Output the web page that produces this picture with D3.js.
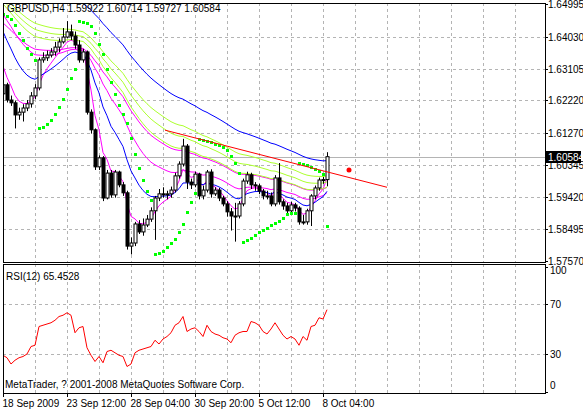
<!DOCTYPE html>
<html><head><meta charset="utf-8">
<script src="https://cdn.jsdelivr.net/npm/d3@7"></script>
<style>body{margin:0;background:#fff}text{font-family:"Liberation Sans",Arial,sans-serif;font-size:10px}</style>
</head><body><div id="chart"></div>
<script>
const symbolTitle = "GBPUSD,H4  1.59922 1.60714 1.59727 1.60584";
const dateLabels = ["18 Sep 2009", "23 Sep 12:00", "28 Sep 04:00", "30 Sep 20:00", "5 Oct 12:00", "8 Oct 04:00"];
const priceTicks = [1.64995, 1.64030, 1.63105, 1.62220, 1.61270, 1.60345, 1.59420, 1.58495, 1.57570];
const rsiTicks = [100, 70, 30, 0];

const opens = [1.6240,1.6266,1.6222,1.6214,1.6179,1.6187,1.6199,1.6211,1.6234,1.6257,1.6338,1.6344,1.6352,1.6361,1.6375,1.6390,1.6404,1.6419,1.6407,1.6381,1.6338,1.6361,1.6187,1.6136,1.6029,1.6055,1.5939,1.6011,1.5948,1.6014,1.5977,1.5954,1.5800,1.5809,1.5864,1.5841,1.5861,1.5878,1.5902,1.5939,1.5951,1.5948,1.5951,1.5962,1.6003,1.6037,1.6089,1.5985,1.5977,1.6008,1.5945,1.5962,1.6014,1.5951,1.5962,1.5939,1.5922,1.5899,1.5887,1.5887,1.5922,1.5988,1.6006,1.5977,1.5974,1.5959,1.5945,1.5945,1.5922,1.5997,1.5928,1.5916,1.5902,1.5919,1.5910,1.5870,1.5870,1.5902,1.5945,1.5968,1.5991,1.59922];
const closes = [1.6266,1.6222,1.6214,1.6179,1.6187,1.6199,1.6211,1.6234,1.6257,1.6338,1.6344,1.6352,1.6361,1.6375,1.6390,1.6404,1.6419,1.6407,1.6381,1.6338,1.6361,1.6187,1.6136,1.6029,1.6055,1.5939,1.6011,1.5948,1.6014,1.5977,1.5954,1.5800,1.5809,1.5864,1.5841,1.5861,1.5878,1.5902,1.5939,1.5951,1.5948,1.5951,1.5962,1.6003,1.6037,1.6089,1.5985,1.5977,1.6008,1.5945,1.5962,1.6014,1.5951,1.5962,1.5939,1.5922,1.5899,1.5887,1.5887,1.5922,1.5988,1.6006,1.5977,1.5974,1.5959,1.5945,1.5945,1.5922,1.5997,1.5928,1.5916,1.5902,1.5919,1.5910,1.5870,1.5870,1.5902,1.5945,1.5968,1.5991,1.59922,1.60584];
const highs = [1.6285,1.6272,1.6235,1.6220,1.6200,1.6210,1.6222,1.6245,1.6268,1.6345,1.6360,1.6365,1.6372,1.6390,1.6400,1.6430,1.6450,1.6440,1.6420,1.6395,1.6370,1.6365,1.6195,1.6140,1.6062,1.6060,1.6020,1.6020,1.6020,1.6018,1.5985,1.5960,1.5825,1.5870,1.5875,1.5880,1.5890,1.5912,1.5945,1.5965,1.5970,1.5960,1.5972,1.6012,1.6045,1.6110,1.6095,1.5995,1.6015,1.6012,1.5975,1.6020,1.6022,1.5970,1.5968,1.5945,1.5930,1.5910,1.5925,1.5930,1.5995,1.6015,1.6012,1.5985,1.5980,1.5965,1.5960,1.5955,1.6005,1.6040,1.5935,1.5925,1.5928,1.5925,1.5915,1.5890,1.5908,1.5950,1.5975,1.5998,1.6000,1.60714];
const lows = [1.6230,1.6215,1.6205,1.6140,1.6165,1.6160,1.6190,1.6200,1.6225,1.6250,1.6330,1.6335,1.6345,1.6350,1.6360,1.6385,1.6400,1.6395,1.6370,1.6330,1.6330,1.6180,1.6125,1.6020,1.6020,1.5930,1.5935,1.5940,1.5940,1.5970,1.5945,1.5790,1.5776,1.5800,1.5835,1.5830,1.5855,1.5870,1.5818,1.5930,1.5940,1.5935,1.5940,1.5955,1.5995,1.6030,1.5965,1.5965,1.5970,1.5935,1.5935,1.5955,1.5940,1.5945,1.5930,1.5915,1.5885,1.5845,1.5813,1.5880,1.5915,1.5980,1.5965,1.5960,1.5950,1.5935,1.5935,1.5915,1.5915,1.5920,1.5905,1.5895,1.5895,1.5900,1.5862,1.5862,1.5862,1.5858,1.5935,1.5960,1.5980,1.59727];
const rsiValues = [29,27,22,25,27,28,30,36,37,52,53,54,55,57,60,61,63,61,47,51,52,35,29,24,28,23,32,33,31,29,28,20,22,31,33,34,35,36,41,38,42,44,47,53,55,60,48,50,51,48,44,53,48,46,45,43,42,39,45,47,48,48,56,55,53,48,46,50,55,50,45,42,44,42,37,44,41,52,53,59,58,65.4528];

// moving averages: period, value at left edge, colour
const maPeriods = [5, 26, 40, 14, 70, 40, 48, 56];
const maSeeds = [1.6320, 1.6470, 1.6445, 1.6420, 1.6640, 1.6500, 1.6510, 1.6520];
const maColors = ["#ff00ff", "#ff00ff", "#ff00ff", "#0000ff", "#0000ff", "#adff2f", "#adff2f", "#adff2f"];
const sarStart = 1.6470;
const trendBars = [40.5, 96];
const trendPrices = [1.6135, 1.5970];
const markBar = 86.5, markPrice = 1.6020;

const W = 583, H = 410;
const frame = {l: 3, r: 545, t: 3, b: 262};
const sub = {t: 264, b: 393};
const svg = d3.select("#chart").append("svg").attr("width", W).attr("height", H);

const x = d3.scaleLinear().domain([0, 81]).range([3, 327]);
const y = d3.scaleLinear().domain([1.57570, 1.64995]).range([261, 4]);
const yr = d3.scaleLinear().domain([0, 100]).range([391.5, 266.5]);

const defs = svg.append("defs");
defs.append("clipPath").attr("id", "cm").append("rect")
  .attr("x", frame.l).attr("y", frame.t).attr("width", frame.r - frame.l).attr("height", frame.b - frame.t);
defs.append("clipPath").attr("id", "cs").append("rect")
  .attr("x", frame.l).attr("y", sub.t).attr("width", frame.r - frame.l).attr("height", sub.b - sub.t);

// grid
const gridX = d3.range(8, 136, 8).map(i => Math.round(x(i)) + 0.5).filter(v => v < frame.r);
const gm = svg.append("g").attr("stroke", "#b4b4b4").attr("stroke-dasharray", "3,3");
gm.selectAll("line.v").data(gridX).join("line").attr("class", "v").attr("x1", d => d).attr("x2", d => d).attr("y1", frame.t).attr("y2", frame.b);
gm.selectAll("line.h").data(priceTicks.slice(1, -1)).join("line").attr("class", "h")
  .attr("x1", frame.l).attr("x2", frame.r).attr("y1", d => Math.round(y(d)) + 0.5).attr("y2", d => Math.round(y(d)) + 0.5);
gm.selectAll("line.vs").data(gridX).join("line").attr("class", "vs").attr("x1", d => d).attr("x2", d => d).attr("y1", sub.t).attr("y2", sub.b);
gm.selectAll("line.hs").data([70, 30]).join("line").attr("class", "hs")
  .attr("x1", frame.l).attr("x2", frame.r).attr("y1", d => Math.round(yr(d)) + 0.5).attr("y2", d => Math.round(yr(d)) + 0.5);

// bid line
const last = closes[closes.length - 1];
svg.append("line").attr("x1", frame.l).attr("x2", frame.r).attr("y1", Math.round(y(last)) + 0.5).attr("y2", Math.round(y(last)) + 0.5).attr("stroke", "#b4b4b4");

const plot = svg.append("g").attr("clip-path", "url(#cm)");

maPeriods.forEach((p, k) => {
  const a = 2 / (p + 1);
  let v = maSeeds[k];
  const pts = closes.map((c, i) => { if (i > 0) v += a * (c - v); return [x(i), y(v)]; });
  plot.append("path").attr("d", d3.line()(pts)).attr("fill", "none").attr("stroke", maColors[k]).attr("stroke-width", 1);
});

const bars = plot.selectAll("g.c").data(closes.map((c, i) => ({i, o: opens[i], c, h: highs[i], l: lows[i]}))).join("g");
bars.append("line").attr("x1", d => Math.round(x(d.i)) + 0.5).attr("x2", d => Math.round(x(d.i)) + 0.5)
  .attr("y1", d => y(d.h)).attr("y2", d => y(d.l)).attr("stroke", "#000");
bars.append("rect").attr("x", d => Math.round(x(d.i)) - 1).attr("width", 3)
  .attr("y", d => y(Math.max(d.o, d.c))).attr("height", d => Math.max(1, Math.abs(y(d.o) - y(d.c))))
  .attr("fill", d => d.c >= d.o ? "#fff" : "#000").attr("stroke", "#000").attr("stroke-width", 1);

// parabolic SAR
const sar = [];
let up = false, s = sarStart, ep = lows[0], af = 0.02;
for (let i = 0; i < closes.length; i++) {
  if (i > 0) {
    s = s + af * (ep - s);
    if (up) {
      s = Math.min(s, lows[i - 1], i > 1 ? lows[i - 2] : lows[i - 1]);
      if (lows[i] < s) { up = false; s = ep; ep = lows[i]; af = 0.02; }
      else if (highs[i] > ep) { ep = highs[i]; af = Math.min(0.2, af + 0.02); }
    } else {
      s = Math.max(s, highs[i - 1], i > 1 ? highs[i - 2] : highs[i - 1]);
      if (highs[i] > s) { up = true; s = ep; ep = highs[i]; af = 0.02; }
      else if (lows[i] < ep) { ep = lows[i]; af = Math.min(0.2, af + 0.02); }
    }
  }
  sar.push(s);
}
plot.selectAll("rect.s").data(sar).join("rect").attr("class", "s")
  .attr("x", (d, i) => Math.round(x(i)) - 1).attr("y", d => Math.round(y(d)) - 1)
  .attr("width", 3).attr("height", 3).attr("fill", "#00ff00");

plot.append("line").attr("x1", x(trendBars[0])).attr("x2", x(trendBars[1]))
  .attr("y1", y(trendPrices[0])).attr("y2", y(trendPrices[1])).attr("stroke", "#ff0000");
plot.append("circle").attr("cx", x(markBar)).attr("cy", y(markPrice)).attr("r", 2.5).attr("fill", "#ff0000");

// RSI
svg.append("g").attr("clip-path", "url(#cs)").append("path")
  .attr("d", d3.line().x((d, i) => x(i)).y(d => yr(d))(rsiValues))
  .attr("fill", "none").attr("stroke", "#ff0000");

svg.append("rect").attr("x", frame.l + 0.5).attr("y", frame.t + 0.5).attr("width", frame.r - frame.l).attr("height", frame.b - frame.t)
  .attr("fill", "none").attr("stroke", "#000");
svg.append("rect").attr("x", frame.l + 0.5).attr("y", sub.t + 0.5).attr("width", frame.r - frame.l).attr("height", sub.b - sub.t)
  .attr("fill", "none").attr("stroke", "#000");

// price axis
const pa = svg.append("g");
priceTicks.forEach(p => {
  const yy = Math.round(y(p));
  pa.append("line").attr("x1", frame.r).attr("x2", frame.r + 3).attr("y1", yy + 0.5).attr("y2", yy + 0.5).attr("stroke", "#000");
  pa.append("text").attr("x", frame.r + 3).attr("y", yy + 4).text(p.toFixed(5));
});
const by = Math.round(y(last));
pa.append("rect").attr("x", frame.r + 1).attr("y", by - 6).attr("width", 35).attr("height", 12).attr("fill", "#000");
pa.append("text").attr("x", frame.r + 3).attr("y", by + 4).attr("fill", "#fff").text(last.toFixed(5));

rsiTicks.forEach(v => {
  const yy = Math.round(yr(v));
  pa.append("line").attr("x1", frame.r).attr("x2", frame.r + 3).attr("y1", yy + 0.5).attr("y2", yy + 0.5).attr("stroke", "#000");
  pa.append("text").attr("x", frame.r + 5).attr("y", Math.min(Math.max(yy + 4, sub.t + 10), sub.b - 4)).text(v);
});

// time axis
dateLabels.forEach((t, k) => {
  const xx = Math.round(x(k * 16)) + 0.5;
  svg.append("line").attr("x1", xx).attr("x2", xx).attr("y1", sub.b).attr("y2", sub.b + 4).attr("stroke", "#000");
  svg.append("text").attr("x", xx - 1).attr("y", 407).text(t);
});

svg.append("text").attr("x", 7).attr("y", 12).text(symbolTitle);
svg.append("text").attr("x", 6).attr("y", 280).text("RSI(12) " + rsiValues[rsiValues.length - 1].toFixed(4));
svg.append("text").attr("x", 5).attr("y", 388).text("MetaTrader, ? 2001-2008 MetaQuotes Software Corp.");
</script></body></html>
